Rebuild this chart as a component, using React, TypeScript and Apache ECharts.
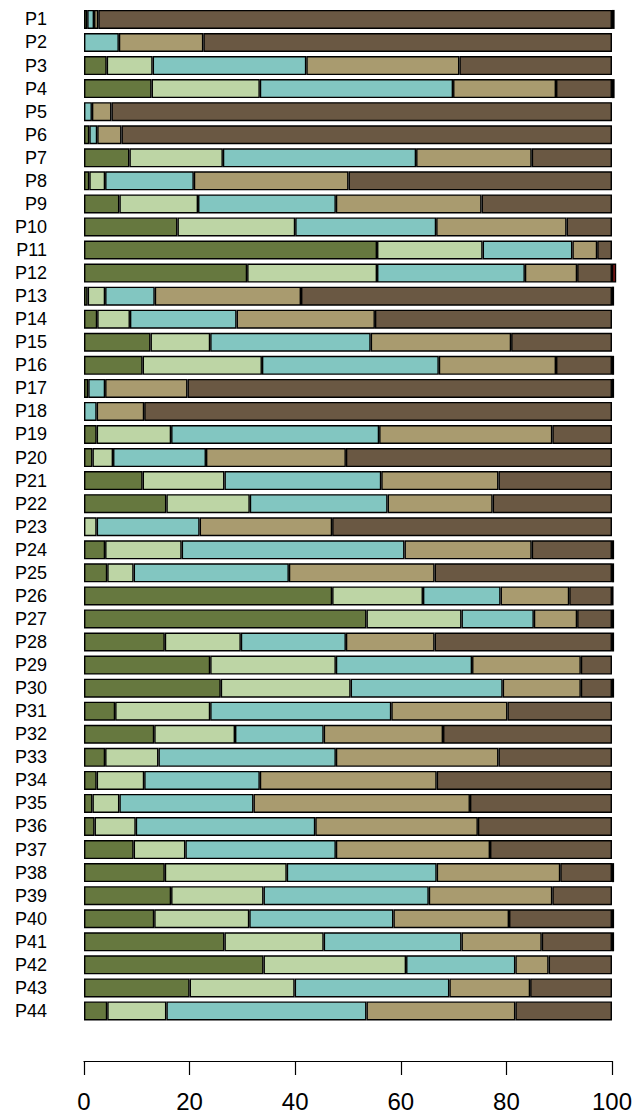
import React, { useEffect, useRef } from "react";
import * as echarts from "echarts";

const categories = [
  "P1", "P2", "P3", "P4", "P5", "P6", "P7", "P8", "P9", "P10", "P11",
  "P12", "P13", "P14", "P15", "P16", "P17", "P18", "P19", "P20", "P21", "P22",
  "P23", "P24", "P25", "P26", "P27", "P28", "P29", "P30", "P31", "P32", "P33",
  "P34", "P35", "P36", "P37", "P38", "P39", "P40", "P41", "P42", "P43", "P44",
];

const olive = [
  0.6, 0, 4.3, 12.8, 0, 1.0, 8.6, 1.0, 6.7, 17.7, 55.5,
  30.9, 0.7, 2.5, 12.6, 11.1, 0.8, 0, 2.4, 1.6, 11.1, 15.6,
  0, 4.0, 4.4, 47.0, 53.5, 15.3, 23.9, 25.9, 5.9, 13.3, 4.0,
  2.4, 1.6, 2.0, 9.4, 15.3, 16.5, 13.3, 26.6, 34.0, 20.0, 4.4,
];
const lightGreen = [
  0, 0, 8.7, 20.5, 0, 0, 17.7, 3.0, 14.9, 22.3, 20.0,
  24.6, 3.3, 6.2, 11.3, 22.6, 0, 0, 14.1, 3.9, 15.5, 15.8,
  2.4, 14.5, 5.0, 17.2, 18.0, 14.4, 23.8, 24.6, 18.0, 15.3, 10.1,
  9.0, 5.1, 7.8, 9.8, 23.1, 17.5, 18.0, 18.8, 27.0, 19.9, 11.2,
];
const teal = [
  1.3, 6.6, 29.1, 36.6, 1.5, 1.5, 36.6, 16.8, 26.1, 26.7, 17.0,
  28.0, 9.4, 20.2, 30.4, 33.5, 3.2, 2.4, 39.4, 17.6, 29.7, 26.1,
  19.5, 42.2, 29.4, 14.7, 13.7, 19.9, 25.8, 28.8, 34.3, 16.8, 33.6,
  21.9, 25.4, 34.0, 28.5, 28.4, 31.3, 27.3, 26.1, 20.7, 29.3, 37.9,
];
const tan = [
  0.8, 16.0, 29.0, 19.5, 3.7, 4.6, 21.9, 29.3, 27.6, 24.7, 4.7,
  9.9, 27.7, 26.2, 26.6, 22.2, 15.6, 9.0, 32.8, 26.5, 22.2, 19.9,
  25.1, 24.1, 27.6, 13.0, 8.2, 16.8, 20.6, 14.8, 22.0, 22.6, 30.8,
  33.5, 41.0, 30.8, 29.2, 23.4, 23.4, 21.9, 15.2, 6.3, 15.3, 28.2,
];
const brown = [
  97.3, 77.4, 28.9, 10.6, 94.8, 92.9, 15.2, 49.9, 24.7, 8.6, 2.8,
  6.6, 58.9, 44.9, 19.1, 10.6, 80.4, 88.6, 11.3, 50.4, 21.5, 22.6,
  53.0, 15.2, 33.6, 8.1, 6.6, 33.6, 5.9, 5.9, 19.8, 32.0, 21.5,
  33.2, 26.9, 25.4, 23.1, 9.8, 11.3, 19.5, 13.3, 12.0, 15.5, 18.3,
];
const other = [
  0.5, 0, 0, 0.5, 0, 0, 0, 0, 0, 0, 0,
  0.8, 0.4, 0, 0, 0.4, 0.4, 0, 0, 0, 0, 0,
  0, 0.4, 0.4, 0.3, 0.4, 0.4, 0, 0.4, 0, 0, 0,
  0, 0, 0, 0, 0.4, 0, 0.4, 0.4, 0, 0, 0,
];

const xTicks = [0, 20, 40, 60, 80, 100];

const seriesDefs = [
  { name: "A", values: olive, color: "#66783f" },
  { name: "B", values: lightGreen, color: "#bdd5a5" },
  { name: "C", values: teal, color: "#82c6c1" },
  { name: "D", values: tan, color: "#a99b6f" },
  { name: "E", values: brown, color: "#6a5843" },
  { name: "F", values: other, color: "#8b1a1a" },
];

export default function App() {
  const ref = useRef<HTMLDivElement>(null);
  useEffect(() => {
    if (!ref.current) return;
    const chart = echarts.init(ref.current, undefined, { renderer: "svg" });
    chart.setOption({
      animation: false,
      backgroundColor: "#ffffff",
      grid: { left: 84, right: 21, top: 7.9, bottom: 94.5, containLabel: false },
      xAxis: {
        type: "value",
        min: xTicks[0],
        max: xTicks[xTicks.length - 1],
        interval: 20,
        position: "bottom",
        offset: 38.5,
        axisLine: { show: true, lineStyle: { color: "#000", width: 1.2 } },
        axisTick: { show: true, length: 14, lineStyle: { color: "#000", width: 1.2 } },
        axisLabel: {
          fontSize: 24,
          margin: 28,
          color: "#000",
          fontFamily: "Liberation Sans, Arial, sans-serif",
        },
        splitLine: { show: false },
      },
      yAxis: {
        type: "category",
        data: categories,
        inverse: true,
        axisLine: { show: false },
        axisTick: { show: false },
        splitLine: { show: false },
        axisLabel: {
          interval: 0,
          fontSize: 18,
          margin: 37,
          color: "#000",
          fontFamily: "Liberation Sans, Arial, sans-serif",
        },
      },
      series: seriesDefs.map((s) => ({
        name: s.name,
        type: "bar",
        stack: "total",
        barWidth: 19,
        clip: false,
        data: s.values.map((v) => (v === 0 ? "-" : v)),
        itemStyle: { color: s.color, borderColor: "#000", borderWidth: 1.4 },
        emphasis: { disabled: true },
      })),
    });
    return () => chart.dispose();
  }, []);
  return (
    <div
      ref={ref}
      style={{ position: "fixed", left: 0, top: 0, width: 635, height: 1117, background: "#fff" }}
    />
  );
}
